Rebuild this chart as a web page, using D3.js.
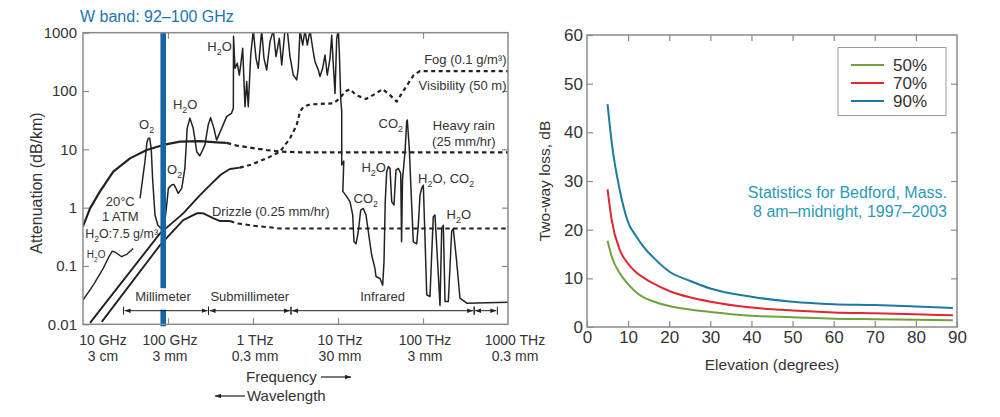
<!DOCTYPE html>
<html><head><meta charset="utf-8">
<script src="https://cdn.jsdelivr.net/npm/d3@7"></script>
<style>
body{margin:0;background:#fff}
svg{display:block}
text{font-family:"Liberation Sans",Arial,sans-serif;fill:#333}
</style>
</head><body>
<svg id="c" width="1000" height="417"></svg>
<script>
// ---------------- LEFT PANEL DATA (frequency in GHz, attenuation in dB/km) ----------------
const freqTickVals = [10, 100, 1000, 10000, 100000, 1000000];
const freqTickLabels = ["10 GHz", "100 GHz", "1 THz", "10 THz", "100 THz", "1000 THz"];
const waveTickLabels = ["3 cm", "3 mm", "0.3 mm", "30 mm", "3 mm", "0.3 mm"];
const attTickVals = [0.01, 0.1, 1, 10, 100, 1000];
const attTickLabels = ["0.01", "0.1", "1", "10", "100", "1000"];
const wBand = [92, 100];

// Clear-air attenuation (20°C, 1 ATM, H2O 7.5 g/m3) — low-frequency piece and main piece
const atmLow = [[10,0.026],[13.2,0.047],[17.3,0.091],[20,0.14],[22.1,0.18],[24,0.172],[28.5,0.144],[33,0.16],[39,0.2]];
const atmMain = [
 [46.9,1.45],[53.6,6.2],[56.5,13],[58.6,15.5],[61,15.5],[63.5,10],[66,3],[70.3,0.75],[76,0.5],[82,0.45],[90,0.46],[95,0.9],
 [101,2.14],[110,2.44],[117,2.51],[125,2.1],[132,1.76],[145,2.14],[158,4.72],[168,22.9],[181,34.3],[198,22.9],[218,9.1],
 [237,7.7],[272,11.9],[297,26.1],[317,35],[347,22.9],[373,14.4],[428,22.9],[489,36.4],[557,41.4],[587,50],
 [590,867],[614,245],[653,300],[690,188],[717,280],[756,540],[805,54],[843,145],[880,54],[940,414],[1008,1100],
 [1085,364],[1154,245],[1265,1100],[1346,364],[1449,229],[1585,704],[1733,1100],[1865,389],[2039,802],[2177,279],
 [2378,1100],[2533,1100],[2725,389],[2980,188],[3266,155],[3410,245],[3572,1100],[3843,615],[4090,1100],[4355,615],
 [4686,1100],[5036,540],[5360,319],[5865,229],[6140,177],[6596,245],[7027,414],[7475,188],[8050,364],[8430,900],
 [8810,279],[9225,91],[9655,802],[10090,1100],[10360,474],[10760,75],[11060,44],[11060,5.4],[11700,6.3],[11400,1.9],
 [12300,1.64],[13830,1.27],[14890,0.75],[15420,0.26],[16290,0.24],[17330,0.39],[18500,0.91],[19860,0.97],[21350,0.75],
 [22720,0.39],[24900,0.154],[27200,0.091],[27990,0.066],[31190,0.061],[33560,0.047],[34770,0.119],[35960,1.27],
 [37410,4.14],[39070,5.05],[40910,4.72],[42840,1.27],[45580,1.11],[48080,4.4],[51230,4.72],[54670,3.87],[55970,0.26],
 [57400,3.0],[61420,9.14],[64310,29.9],[65360,31.8],[68970,10.4],[73580,1.11],[76900,0.26],[84300,0.24],[88070,0.5],
 [92220,1.64],[96400,2.14],[100900,2.42],[105600,0.3],[110600,0.032],[120800,0.03],[132100,0.7],[138300,0.75],
 [144800,0.23],[158500,0.021],[166000,0.44],[173400,0.5],[181600,0.0245],[198600,0.0245],[217400,0.39],[227100,0.44],
 [248900,0.119],[272300,0.028],[326600,0.023],[1000000,0.024]];

const heavyRainSolid = [[10,0.477],[12.1,0.97],[15.8,1.88],[22.7,4.14],[35.7,7.0],[56.1,9.73],[88,11.9],[138,13.6],[238,13.8],[374,13.2],[491,12.9]];
const heavyRainDashed = [[491,12.9],[643,11.6],[923,10.7],[1449,9.73],[2080,9.14],[3570,8.9],[1000000,8.9]];

const fogSolid = [[12.1,0.0106],[27.2,0.048],[80.6,0.362],[150,0.79],[238,1.64],[312,2.44],[420,3.7],[535,4.6],[700,4.86]];
const fogDashed = [[700,4.86],[923,5.38],[1449,7.0],[2080,9.14],[2725,15.4],[3266,26.1],[3572,44.3],[3930,54],[4690,59],
 [8810,61.5],[10500,75],[12080,97.6],[13830,108],[16350,85],[21400,73],[27990,91],[33550,108],[40900,85],[49050,65.8],
 [58000,97.6],[77700,188],[92200,220],[1000000,220]];

const drizzleSolid = [[16.6,0.011],[80.6,0.228],[151,0.61],[218,0.8],[260,0.8],[340,0.66],[409,0.59],[535,0.59]];
const drizzleDashed = [[535,0.59],[643,0.54],[1000,0.49],[2080,0.44],[3570,0.44],[1000000,0.44]];

const regionNames = ["Millimeter", "Submillimeter", "Infrared", ""];
const regionRanges = [[30,300],[300,2800],[2800,400000],[400000,750000]];

// ---------------- RIGHT PANEL DATA ----------------
const elevation = [5,6,8,10,12,14,16,20,25,30,40,50,60,70,80,89];
const loss50 = [17.7,14.5,11.0,8.8,7.1,6.0,5.3,4.3,3.6,3.1,2.3,2.0,1.7,1.6,1.5,1.4];
const loss70 = [28.3,22.0,15.8,13.0,11.2,10.0,9.0,7.4,6.1,5.2,4.0,3.4,3.0,2.8,2.6,2.4];
const loss90 = [45.8,38.0,28.0,21.5,18.6,16.2,14.4,11.4,9.5,7.9,6.2,5.2,4.7,4.5,4.2,3.9];
const seriesNames = ["50%", "70%", "90%"];
const elevTicks = [0,10,20,30,40,50,60,70,80,90];
const lossTicks = [0,10,20,30,40,50,60];

// ---------------- DRAW ----------------
const svg = d3.select('#c');
const defs = svg.append('defs');
const INK = '#222', FRAME = '#8a8a8a';

function rich(t, s){
  const parts = s.split(/(_\d)/).filter(p=>p!=='');
  let shift = 0;
  parts.forEach(p=>{
    if(p[0]==='_' ){ t.append('tspan').attr('dy',4-shift).attr('font-size','0.68em').text(p[1]); shift=4; }
    else { t.append('tspan').attr('dy',-shift).text(p); shift=0; }
  });
  return t;
}

// ===== LEFT =====
const xL = d3.scaleLog().domain([10,1e6]).range([83,508]);
const yL = d3.scaleLog().domain([0.01,1000]).range([324.3,32.7]);
const gL = svg.append('g');
defs.append('clipPath').attr('id','clipL').append('rect')
  .attr('x',xL.range()[0]).attr('y',yL.range()[1]).attr('width',xL.range()[1]-xL.range()[0]).attr('height',yL.range()[0]-yL.range()[1]);

function styleAxis(g, fs){
  g.select('.domain').remove();
  g.attr('font-family','"Liberation Sans",Arial,sans-serif').attr('font-size',fs).attr('color','#333');
  g.selectAll('line').attr('stroke',FRAME).attr('stroke-width',1.2);
}
gL.append('g').attr('transform',`translate(${xL.range()[0]},0)`)
  .call(d3.axisLeft(yL).tickValues(attTickVals).tickFormat((d,i)=>attTickLabels[i]).tickSizeInner(-6).tickSizeOuter(0).tickPadding(6))
  .call(g=>styleAxis(g,15));
gL.append('g').attr('transform',`translate(${xL.range()[1]},0)`)
  .call(d3.axisRight(yL).tickValues(attTickVals.slice(1,-1)).tickFormat('').tickSizeInner(-6).tickSizeOuter(0))
  .call(g=>styleAxis(g,15));
gL.append('g').attr('transform',`translate(0,${yL.range()[0]})`)
  .call(d3.axisBottom(xL).tickValues(freqTickVals.slice(1,-1)).tickFormat('').tickSizeInner(-6).tickSizeOuter(0))
  .call(g=>styleAxis(g,14));
gL.append('g').attr('transform',`translate(0,${yL.range()[1]})`)
  .call(d3.axisTop(xL).tickValues(freqTickVals.slice(1,-1)).tickFormat('').tickSizeInner(-6).tickSizeOuter(0))
  .call(g=>styleAxis(g,14));

const tickDx = i => i===0 ? 20 : (i===freqTickVals.length-1 ? 7 : 2);
const xl = gL.append('g').selectAll('text').data(freqTickVals).join('text')
  .attr('text-anchor','middle').attr('font-size',14)
  .attr('x',(d,i)=>xL(d)+tickDx(i)).attr('y',yL.range()[0]+21);
xl.append('tspan').text((d,i)=>freqTickLabels[i]);
xl.append('tspan').attr('x',(d,i)=>xL(d)+tickDx(i)).attr('dy',16).text((d,i)=>waveTickLabels[i]);

gL.append('text').attr('transform',`translate(36,183) rotate(-90)`).attr('text-anchor','middle')
  .attr('dy','0.35em').attr('font-size',16).text('Attenuation (dB/km)');

// curves
const lineL = d3.line().x(d=>xL(d[0])).y(d=>yL(d[1]));
const gc = gL.append('g').attr('clip-path','url(#clipL)').attr('fill','none').attr('stroke',INK).attr('stroke-linejoin','round');
[[heavyRainSolid,2.2,null],[heavyRainDashed,2.2,'4.5,3.5'],[fogSolid,1.9,null],[fogDashed,2.2,'4,3.5'],
 [drizzleSolid,1.9,null],[drizzleDashed,2,'4.5,3.5'],[atmLow,1.4,null],[atmMain,1.5,null]].forEach(([d,w,da])=>{
  gc.append('path').datum(d).attr('d',lineL).attr('stroke-width',w).attr('stroke-dasharray',da);
});

// W band
const bx0 = xL(wBand[0]) - 4.5, bx1 = xL(wBand[1]) - 2;
gL.append('rect').attr('x',bx0).attr('width',bx1-bx0).attr('y',yL.range()[1]).attr('height',yL.range()[0]-yL.range()[1]+2)
  .attr('fill','#1466a6');
svg.append('text').attr('x',80).attr('y',22).attr('font-size',16).style('fill','#1b74b6').text('W band: 92\u2013100 GHz');

// frame
gL.append('rect').attr('x',xL.range()[0]).attr('y',yL.range()[1]).attr('width',xL.range()[1]-xL.range()[0])
  .attr('height',yL.range()[0]-yL.range()[1]).attr('fill','none').attr('stroke',FRAME).attr('stroke-width',1.5);

// region arrows
const arrowY = 310.7;
defs.append('marker').attr('id','ah').attr('viewBox','0 0 8 6').attr('refX',8).attr('refY',3)
  .attr('markerWidth',6).attr('markerHeight',5).attr('markerUnits','userSpaceOnUse').attr('orient','auto-start-reverse')
  .append('path').attr('d','M0,0L8,3L0,6Z').attr('fill',INK);
const gr = gL.append('g');
regionRanges.forEach((r,i)=>{
  const a = xL(r[0]), b = xL(r[1]);
  if(regionNames[i]){
    const t = gr.append('text').attr('x',(a+b)/2 - (i===0?3:0)).attr('y',arrowY-9.5).attr('text-anchor','middle').attr('font-size',13).text(regionNames[i]);
    if(i===0){
      const bb = t.node().getBBox();
      gr.insert('rect','text').attr('x',bx0-1).attr('width',bx1-bx0+2).attr('y',bb.y-1).attr('height',arrowY-bb.y).attr('fill','#fff');
    }
  }
  gr.append('line').attr('x1',a+1).attr('x2',b-1).attr('y1',arrowY).attr('y2',arrowY).attr('stroke',INK).attr('stroke-width',1)
    .attr('marker-start','url(#ah)').attr('marker-end','url(#ah)');
  [a,b].forEach(x=>gr.append('line').attr('x1',x).attr('x2',x).attr('y1',arrowY-4).attr('y2',arrowY+4).attr('stroke',INK).attr('stroke-width',1));
});

// annotations (anchored in data coordinates)
const notes = [
  ['O_2',56,22,'middle',13],['H_2O',159,48.7,'middle',13],['H_2O',404,480,'middle',13],['O_2',119.6,3.72,'middle',13],
  ['20°C',27.4,1.05,'middle',13],['1 ATM',27.4,0.58,'middle',13],['H_2O:7.5 g/m³',28.5,0.30,'middle',12.5],
  ['H_2O',14.3,0.135,'middle',10],['Drizzle (0.25 mm/hr)',329,0.71,'start',13],
  ['Fog (0.1 g/m³)',1e6,287,'end',13],['Visibility (50 m)',1e6,103,'end',13],
  ['Heavy rain',302800,21.1,'middle',13],['(25 mm/hr)',302800,11.3,'middle',13],
  ['CO_2',41700,22.9,'middle',13],['H_2O',26300,4.03,'middle',13],['H_2O, CO_2',187000,2.61,'middle',13],
  ['CO_2',21200,1.18,'middle',13],['H_2O',264000,0.63,'middle',13]
];
notes.forEach(([s,f,a,anc,fs])=>{
  const t = gL.append('text').attr('x',xL(f)-(anc==='end'?1.5:0)).attr('y',yL(a)).attr('text-anchor',anc).attr('font-size',fs);
  rich(t,s);
});

// Frequency / Wavelength
svg.append('text').attr('x',246).attr('y',382).attr('font-size',15).text('Frequency');
svg.append('text').attr('x',247).attr('y',401).attr('font-size',15).text('Wavelength');
svg.append('line').attr('x1',321).attr('x2',351).attr('y1',377).attr('y2',377).attr('stroke',INK).attr('stroke-width',1.2).attr('marker-end','url(#ah)');
svg.append('line').attr('x1',245).attr('x2',215).attr('y1',396).attr('y2',396).attr('stroke',INK).attr('stroke-width',1.2).attr('marker-end','url(#ah)');

// ===== RIGHT =====
const xR = d3.scaleLinear().domain([0,90]).range([587,957]);
const yR = d3.scaleLinear().domain([0,60]).range([327,35]);
const gR = svg.append('g');
gR.append('g').attr('transform',`translate(${xR.range()[0]},0)`)
  .call(d3.axisLeft(yR).tickValues(lossTicks).tickSizeInner(-6).tickSizeOuter(0).tickPadding(4))
  .call(g=>styleAxis(g,17));
gR.append('g').attr('transform',`translate(${xR.range()[1]},0)`)
  .call(d3.axisRight(yR).tickValues(lossTicks.slice(1,-1)).tickFormat('').tickSizeInner(-6).tickSizeOuter(0))
  .call(g=>styleAxis(g,17));
gR.append('g').attr('transform',`translate(0,${yR.range()[0]})`)
  .call(d3.axisBottom(xR).tickValues(elevTicks).tickSizeInner(-6).tickSizeOuter(0).tickPadding(4))
  .call(g=>styleAxis(g,17));
gR.append('g').attr('transform',`translate(0,${yR.range()[1]})`)
  .call(d3.axisTop(xR).tickValues(elevTicks.slice(1,-1)).tickFormat('').tickSizeInner(-6).tickSizeOuter(0))
  .call(g=>styleAxis(g,17));

const colors = ['#6ea33c','#e3262f','#1b7aa3'];
const lossSeries = [loss50, loss70, loss90];
const lineR = d3.line().x((d,i)=>xR(elevation[i])).y(d=>yR(d)).curve(d3.curveMonotoneX);
gR.append('g').selectAll('path').data(lossSeries).join('path')
  .attr('d',lineR).attr('fill','none').attr('stroke',(d,i)=>colors[i]).attr('stroke-width',2);

gR.append('rect').attr('x',xR.range()[0]).attr('y',yR.range()[1]).attr('width',xR.range()[1]-xR.range()[0])
  .attr('height',yR.range()[0]-yR.range()[1]).attr('fill','none').attr('stroke',FRAME).attr('stroke-width',1.5);

gR.append('text').attr('x',(xR.range()[0]+xR.range()[1])/2-0).attr('y',370).attr('text-anchor','middle')
  .attr('font-size',15.5).text('Elevation (degrees)');
gR.append('text').attr('transform','translate(545,181) rotate(-90)').attr('text-anchor','middle').attr('dy','0.35em')
  .attr('font-size',15.5).text('Two-way loss, dB');

// legend
const lg = gR.append('g');
lg.append('rect').attr('x',838).attr('y',47.5).attr('width',108).attr('height',68).attr('fill','#fff').attr('stroke','#999').attr('stroke-width',1);
const li = lg.selectAll('g.it').data(seriesNames).join('g').attr('transform',(d,i)=>`translate(0,${65+i*18})`);
li.append('line').attr('x1',851).attr('x2',884).attr('stroke',(d,i)=>colors[i]).attr('stroke-width',2);
li.append('text').attr('x',893).attr('dy','0.35em').attr('font-size',17).text(d=>d);

// note
const note = gR.append('text').attr('text-anchor','end').attr('font-size',16).style('fill','#2b9ab6');
note.append('tspan').attr('x',947).attr('y',198).text('Statistics for Bedford, Mass.');
note.append('tspan').attr('x',947).attr('y',217).text('8 am\u2013midnight, 1997\u20132003');
</script>
</body></html>
